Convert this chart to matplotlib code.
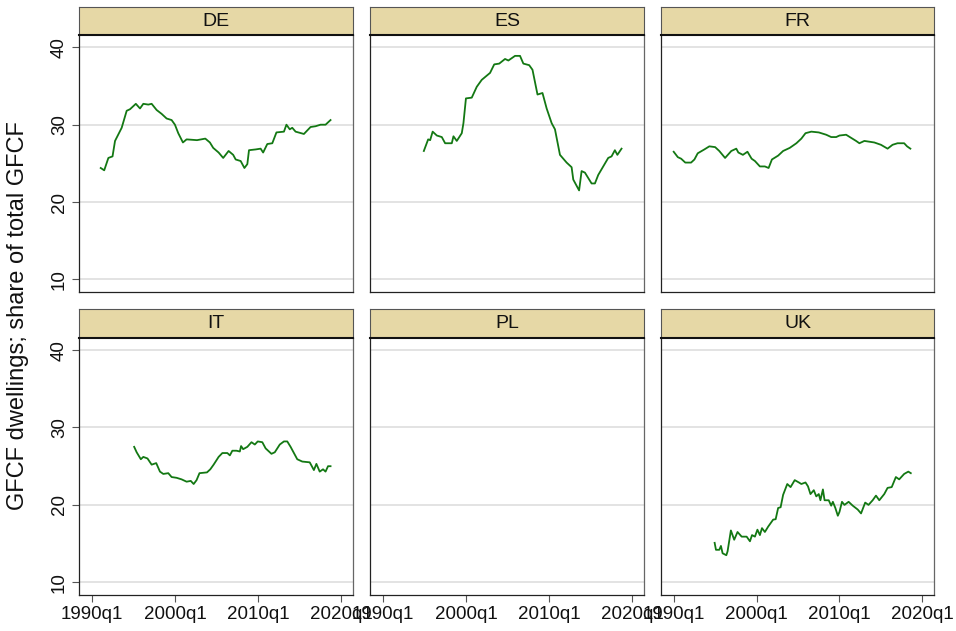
import matplotlib
matplotlib.use("Agg")
import matplotlib.pyplot as plt

plt.rcParams['font.family'] = ['Liberation Sans', 'DejaVu Sans']

countries = ["DE", "ES", "FR", "IT", "PL", "UK"]

de_t = [1991.08, 1991.5, 1992.0, 1992.5, 1992.8, 1993.6, 1994.2, 1994.6, 1995.3, 1995.8, 1996.2, 1996.8,
        1997.2, 1997.8, 1998.4, 1999.0, 1999.6, 2000.0, 2000.4, 2000.96, 2001.4, 2002.65, 2003.65, 2004.2,
        2004.6, 2005.25, 2005.8, 2006.45, 2007.0, 2007.3, 2007.9, 2008.35, 2008.7, 2008.9, 2009.7, 2010.3,
        2010.6, 2011.1, 2011.7, 2012.2, 2013.1, 2013.4, 2013.8, 2014.1, 2014.5, 2015.5, 2016.3, 2016.9,
        2017.5, 2018.1, 2018.7]
de_v = [24.4, 24.1, 25.7, 25.9, 27.9, 29.6, 31.8, 32.0, 32.7, 32.1, 32.7, 32.6,
        32.7, 31.9, 31.4, 30.8, 30.6, 30.0, 28.9, 27.7, 28.1, 28.0, 28.2, 27.7,
        27.0, 26.4, 25.7, 26.6, 26.1, 25.5, 25.3, 24.4, 24.9, 26.7, 26.8, 26.9,
        26.4, 27.5, 27.6, 29.0, 29.1, 30.0, 29.4, 29.6, 29.1, 28.8, 29.7, 29.8,
        30.0, 30.0, 30.6]

es_t = [1994.94, 1995.46, 1995.7, 1996.0, 1996.5, 1997.1, 1997.5, 1998.3, 1998.5, 1998.9, 1999.5, 1999.7,
        2000.0, 2000.7, 2001.3, 2001.9, 2002.9, 2003.4, 2004.0, 2004.7, 2005.1, 2005.9, 2006.5, 2006.9,
        2007.6, 2008.0, 2008.6, 2009.2, 2009.7, 2010.3, 2010.7, 2011.3, 2012.1, 2012.7, 2012.9, 2013.6,
        2013.9, 2014.3, 2015.1, 2015.5, 2015.9, 2017.1, 2017.5, 2017.9, 2018.2, 2018.7]
es_v = [26.6, 28.1, 28.0, 29.1, 28.6, 28.4, 27.6, 27.6, 28.5, 27.9, 28.9, 30.2,
        33.4, 33.5, 34.9, 35.8, 36.7, 37.8, 37.9, 38.5, 38.3, 38.9, 38.9, 37.9,
        37.7, 37.1, 33.9, 34.1, 32.1, 30.2, 29.4, 26.1, 25.1, 24.5, 22.9, 21.5,
        24.0, 23.8, 22.4, 22.4, 23.5, 25.7, 25.9, 26.7, 26.1, 26.9]

fr_t = [1990.0, 1990.5, 1990.9, 1991.4, 1992.1, 1992.5, 1992.9, 1993.7, 1994.3, 1995.0, 1995.5, 1996.2,
        1996.95, 1997.55, 1997.8, 1998.35, 1998.9, 1999.4, 1999.8, 2000.4, 2001.0, 2001.45, 2001.85, 2002.6,
        2003.2, 2004.0, 2004.8, 2005.4, 2005.9, 2006.6, 2007.5, 2008.4, 2009.0, 2009.6, 2010.0, 2010.8,
        2011.4, 2012.0, 2012.4, 2013.0, 2014.2, 2015.0, 2015.8, 2016.4, 2017.0, 2017.8, 2018.15, 2018.55]
fr_v = [26.5, 25.8, 25.6, 25.1, 25.1, 25.5, 26.3, 26.8, 27.2, 27.1, 26.6, 25.7,
        26.6, 26.9, 26.4, 26.1, 26.5, 25.6, 25.3, 24.6, 24.6, 24.4, 25.5, 26.0,
        26.6, 27.0, 27.6, 28.2, 28.9, 29.1, 29.0, 28.7, 28.4, 28.4, 28.6, 28.7,
        28.3, 27.9, 27.6, 27.9, 27.7, 27.4, 26.9, 27.4, 27.6, 27.6, 27.2, 26.9]

it_t = [1995.1, 1995.4, 1995.9, 1996.2, 1996.7, 1997.2, 1997.75, 1998.2, 1998.6, 1999.2, 1999.6, 2000.2,
        2000.8, 2001.4, 2001.9, 2002.25, 2002.6, 2002.95, 2003.85, 2004.25, 2004.65, 2005.25, 2005.7, 2006.3,
        2006.6, 2006.9, 2007.4, 2007.8, 2007.95, 2008.2, 2008.7, 2009.2, 2009.6, 2009.95, 2010.5, 2010.9,
        2011.6, 2012.0, 2012.6, 2013.1, 2013.5, 2013.9, 2014.7, 2015.3, 2016.2, 2016.7, 2017.0, 2017.4,
        2017.8, 2018.1, 2018.4, 2018.7]
it_v = [27.5, 26.8, 25.9, 26.2, 26.0, 25.2, 25.4, 24.3, 24.0, 24.1, 23.6, 23.5,
        23.3, 23.0, 23.1, 22.7, 23.2, 24.1, 24.2, 24.6, 25.2, 26.2, 26.7, 26.7,
        26.4, 27.0, 27.0, 26.9, 27.6, 27.2, 27.5, 28.1, 27.8, 28.2, 28.1, 27.3,
        26.6, 26.8, 27.8, 28.2, 28.2, 27.5, 25.9, 25.6, 25.5, 24.5, 25.3, 24.3,
        24.6, 24.3, 25.0, 25.0]

pl_t = []
pl_v = []

uk_t = [1994.94, 1995.1, 1995.5, 1995.7, 1995.9, 1996.35, 1996.5, 1996.9, 1997.3, 1997.7, 1998.2, 1998.8,
        1999.2, 1999.45, 1999.8, 2000.1, 2000.4, 2000.65, 2001.0, 2001.4, 2002.0, 2002.3, 2002.6, 2002.9,
        2003.2, 2003.7, 2004.1, 2004.6, 2005.1, 2005.4, 2005.9, 2006.2, 2006.5, 2006.9, 2007.2, 2007.5,
        2007.7, 2008.0, 2008.2, 2008.7, 2009.0, 2009.2, 2009.5, 2009.8, 2010.0, 2010.3, 2010.6, 2011.1,
        2011.6, 2012.2, 2012.6, 2013.1, 2013.5, 2014.0, 2014.4, 2014.8, 2015.4, 2015.8, 2016.3, 2016.8,
        2017.2, 2017.8, 2018.3, 2018.6]
uk_v = [15.1, 14.2, 14.2, 14.7, 13.75, 13.5, 14.0, 16.7, 15.5, 16.5, 15.9, 15.9,
        15.3, 16.1, 15.9, 16.8, 16.1, 17.0, 16.5, 17.2, 18.1, 18.15, 19.6, 19.7,
        21.3, 22.7, 22.3, 23.2, 22.9, 22.7, 22.9, 22.4, 21.4, 21.9, 21.1, 21.4,
        20.6, 22.0, 20.6, 20.6, 19.9, 20.4, 19.6, 18.6, 19.1, 20.4, 20.0, 20.4,
        19.9, 19.4, 18.9, 20.3, 20.0, 20.6, 21.2, 20.6, 21.4, 22.2, 22.3, 23.6,
        23.3, 24.0, 24.3, 24.1]

series = {"DE": (de_t, de_v), "ES": (es_t, es_v), "FR": (fr_t, fr_v),
          "IT": (it_t, it_v), "PL": (pl_t, pl_v), "UK": (uk_t, uk_v)}

x_ticks = [1990, 2000, 2010, 2020]
x_ticklabels = ["1990q1", "2000q1", "2010q1", "2020q1"]
y_ticks = [10, 20, 30, 40]
y_label = "GFCF dwellings; share of total GFCF"

W, H = 956, 631
fig = plt.figure(figsize=(W / 100, H / 100), dpi=100)

col_x = [(79, 353), (370, 644), (661, 934)]
row_y = [(35, 291.7, 7), (337.7, 594.7, 309)]  # plot top, plot bottom, strip top

line_color = "#137813"
strip_color = "#E6D8A6"
grid_color = "#E0E0E0"

for i, c in enumerate(countries):
    r, k = divmod(i, 3)
    x0, x1 = col_x[k]
    ptop, pbot, stop = row_y[r]
    ax = fig.add_axes([x0 / W, 1 - pbot / H, (x1 - x0) / W, (pbot - ptop) / H])
    sax = fig.add_axes([x0 / W, 1 - ptop / H, (x1 - x0) / W, (ptop - stop) / H])
    sax.set_xticks([]); sax.set_yticks([])
    sax.set_facecolor(strip_color)
    for s in sax.spines.values():
        s.set_color("#555555"); s.set_linewidth(0.8)
    sax.spines['bottom'].set_color("#111111"); sax.spines['bottom'].set_linewidth(1.5)
    sax.text(0.5, 0.48, c, ha="center", va="center", fontsize=14, color="#111111",
             transform=sax.transAxes)

    ax.set_xlim(1988.47, 2021.4)
    ax.set_ylim(8.4, 41.6)
    for yv in y_ticks:
        ax.axhline(yv, color=grid_color, lw=1.3, zorder=0)
    t, v = series[c]
    if t:
        ax.plot(t, v, color=line_color, lw=1.3, zorder=3)
    for s in ax.spines.values():
        s.set_color("#222222"); s.set_linewidth(0.9)
    ax.spines['right'].set_color("#666666")
    ax.spines['top'].set_visible(False)

    ax.set_yticks(y_ticks)
    if k == 0:
        ax.set_yticklabels([str(y) for y in y_ticks], rotation=90, va="center", fontsize=13.5,
                           color="#111111")
        ax.tick_params(axis="y", length=5, width=0.8, color="#555555", pad=3)
    else:
        ax.tick_params(axis="y", length=0, labelleft=False)
    ax.set_xticks(x_ticks)
    if r == 1:
        ax.set_xticklabels(x_ticklabels, fontsize=13.5, color="#111111")
        ax.tick_params(axis="x", length=5, width=0.8, color="#555555", pad=3)
    else:
        ax.tick_params(axis="x", length=0, labelbottom=False)

fig.text(18 / W, 0.5, y_label, rotation=90, ha="center", va="center", fontsize=17,
         color="#111111")

fig.savefig("out.png", dpi=100, facecolor="white")
